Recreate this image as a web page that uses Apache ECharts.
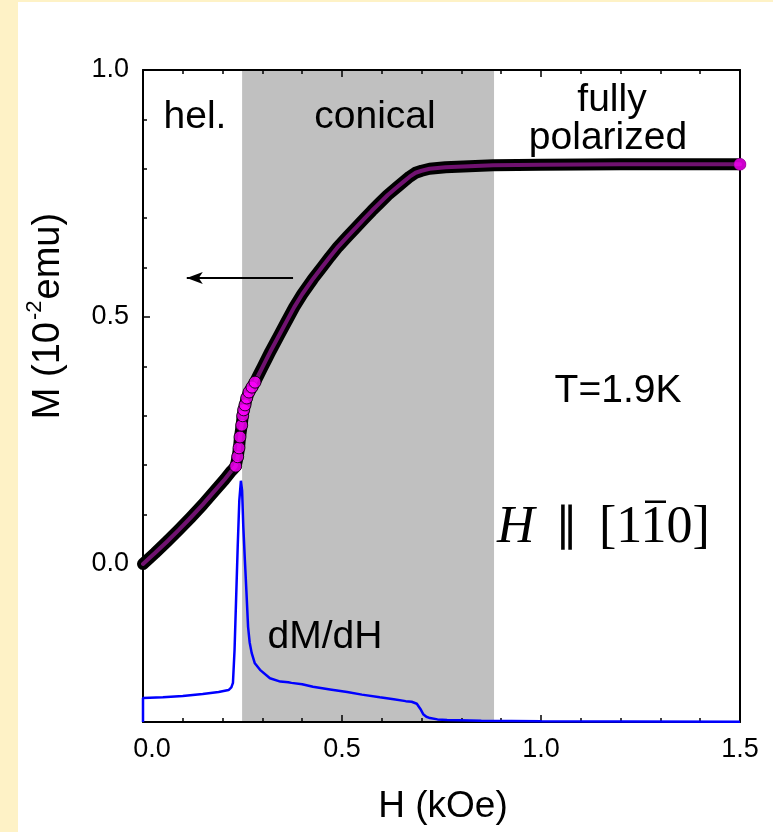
<!DOCTYPE html>
<html>
<head>
<meta charset="utf-8">
<script src="https://cdn.jsdelivr.net/npm/echarts@6/dist/echarts.min.js"></script>
<style>
  html, body { margin: 0; padding: 0; background: #fef2c6; }
  #chart { width: 773px; height: 832px; }
</style>
</head>
<body>
<div id="chart"></div>
<script>
// Magnetization M (10^-2 emu) vs field H (kOe), T = 1.9 K
// low-field helical branch
const lowH = [0, 0.03, 0.06, 0.09, 0.12, 0.15, 0.18, 0.205, 0.222, 0.228];
const lowM = [0, 0.022, 0.045, 0.069, 0.094, 0.120, 0.148, 0.171, 0.188, 0.193];
// helical -> conical transition (sparse, individually visible points)
const jumpH = [0.2329, 0.2379, 0.2412, 0.2437, 0.2480, 0.2505, 0.2530, 0.2563, 0.2606, 0.2663, 0.2739, 0.2814];
const jumpM = [0.198, 0.217, 0.235, 0.257, 0.281, 0.300, 0.312, 0.322, 0.336, 0.348, 0.358, 0.368];
// conical and fully polarized branches
const highH = [0.29, 0.30, 0.31, 0.32, 0.344, 0.36, 0.38, 0.40, 0.427, 0.45, 0.47, 0.49, 0.513, 0.535, 0.555, 0.575, 0.595, 0.615, 0.64, 0.655, 0.67, 0.685, 0.70, 0.72, 0.76, 0.82, 0.88, 1.0, 1.2, 1.5];
const highM = [0.382, 0.398, 0.414, 0.430, 0.466, 0.490, 0.520, 0.546, 0.577, 0.601, 0.622, 0.642, 0.662, 0.681, 0.698, 0.715, 0.731, 0.747, 0.764, 0.774, 0.784, 0.792, 0.796, 0.800, 0.803, 0.805, 0.807, 0.808, 0.809, 0.809];

// dM/dH (arb. units)
const dH = [0, 0, 0.05, 0.10, 0.15, 0.19, 0.215, 0.222, 0.226, 0.230, 0.234, 0.238, 0.242, 0.246, 0.249, 0.252, 0.256, 0.260, 0.264, 0.268, 0.273, 0.281, 0.294, 0.319, 0.345, 0.365, 0.369, 0.373, 0.40, 0.427, 0.47, 0.513, 0.55, 0.595, 0.63, 0.66, 0.675, 0.688, 0.697, 0.704, 0.712, 0.721, 0.74, 0.764, 0.85, 1.0, 1.2, 1.5];
const dMdH = [0, 3.7, 3.8, 4.0, 4.3, 4.6, 4.9, 5.3, 6.0, 11, 19, 27, 34, 37, 35.5, 30, 24.8, 19.8, 14.6, 12.2, 10.6, 9.0, 8.0, 6.7, 6.2, 6.1, 6.4, 6.0, 5.8, 5.4, 5.0, 4.6, 4.2, 3.8, 3.5, 3.2, 3.1, 2.8, 2.0, 1.2, 0.8, 0.6, 0.4, 0.3, 0.2, 0.12, 0.08, 0.05];

// phase boundaries (kOe)
const conicalStart = 0.249;
const conicalEnd = 0.882;

// tick values
const xTicks = [0, 0.5, 1.0, 1.5];
const yMajor = [0, 0.5, 1.0];
const yMinor = [0.1, 0.2, 0.3, 0.4, 0.6, 0.7, 0.8, 0.9];

const pairs = (xs, ys) => xs.map((x, i) => [x, ys[i]]);
const mH = lowH.concat(jumpH, highH);
const mM = lowM.concat(jumpM, highM);
const mData = pairs(mH, mM);

const SANS = '"Liberation Sans", Arial, sans-serif';
const SERIF = '"Liberation Serif", "Times New Roman", serif';
const X0 = 0, X1 = 1.5, Y0 = -0.32, Y1 = 1.0;

const chart = echarts.init(document.getElementById('chart'), null, { renderer: 'canvas' });

const baseY = {
  type: 'value', min: Y0, max: Y1, position: 'left', z: 1.5,
  splitLine: { show: false }
};

chart.setOption({
  animation: false,
  backgroundColor: '#fef2c6',
  grid: { left: 143, right: 33, top: 70, bottom: 110 },
  xAxis: [
    {
      type: 'value', min: X0, max: X1, interval: 0.5, position: 'bottom', z: 1.5,
      axisLine: { show: true, onZero: false, lineStyle: { color: '#000', width: 2 } },
      axisTick: { show: true, inside: true, length: 7, lineStyle: { color: '#000', width: 1.5 } },
      minorTick: { show: true, splitNumber: 5, length: 4, lineStyle: { color: '#000', width: 1.5 } },
      axisLabel: {
        fontFamily: SANS, fontSize: 27, color: '#000', margin: 14,
        formatter: v => (v === 0 ? '{z|' + v.toFixed(1) + '}' : v.toFixed(1)),
        rich: { z: { fontFamily: SANS, fontSize: 27, color: '#000', padding: [0, 0, 0, 18] } }
      },
      splitLine: { show: false }
    },
    {
      type: 'value', min: X0, max: X1, interval: 0.5, position: 'top', z: 1.5,
      axisLine: { show: true, onZero: false, lineStyle: { color: '#000', width: 2 } },
      axisTick: { show: true, inside: true, length: 7, lineStyle: { color: '#000', width: 1.5 } },
      minorTick: { show: true, splitNumber: 5, length: 4, lineStyle: { color: '#000', width: 1.5 } },
      axisLabel: { show: false },
      splitLine: { show: false }
    }
  ],
  yAxis: [
    Object.assign({}, baseY, {
      axisLine: { show: true, onZero: false, lineStyle: { color: '#000', width: 2 } },
      axisTick: { show: true, inside: true, length: 7, customValues: yMajor, lineStyle: { color: '#000', width: 1.5 } },
      axisLabel: { fontFamily: SANS, fontSize: 27, color: '#000', margin: 14, customValues: yMajor,
        formatter: v => v.toFixed(1) }
    }),
    // dM/dH scale (not drawn)
    { type: 'value', min: 0, max: 100, show: false, splitLine: { show: false } },
    // minor ticks on the M axis
    Object.assign({}, baseY, {
      axisLine: { show: false },
      axisTick: { show: true, inside: true, length: 4, customValues: yMinor, lineStyle: { color: '#000', width: 1.5 } },
      axisLabel: { show: false }
    }),
    // right frame
    Object.assign({}, baseY, {
      position: 'right',
      axisLine: { show: true, onZero: false, lineStyle: { color: '#000', width: 2 } },
      axisTick: { show: false },
      axisLabel: { show: false }
    })
  ],
  graphic: [
    { type: 'rect', z: -10, silent: true, shape: { x: 18, y: 2, width: 760, height: 835 }, style: { fill: '#fff' } },
    // axis titles
    { type: 'text', z: 10, x: 46, y: 316, rotation: Math.PI / 2,
      style: { text: '{a|M (10}{s|-2}{a|emu)}', align: 'center', verticalAlign: 'middle',
        rich: {
          a: { fontFamily: SANS, fontSize: 38, fill: '#000', lineHeight: 44, verticalAlign: 'bottom' },
          s: { fontFamily: SANS, fontSize: 22, fill: '#000', lineHeight: 44, verticalAlign: 'top', padding: [0, 1, 0, 2] }
        } } },
    { type: 'text', z: 10, x: 443, y: 807,
      style: { text: 'H (kOe)', font: '37px ' + SANS, fill: '#000', align: 'center', verticalAlign: 'middle' } },
    // phase labels
    { type: 'text', z: 10, x: 195, y: 117,
      style: { text: 'hel.', font: '39px ' + SANS, fill: '#000', align: 'center', verticalAlign: 'middle' } },
    { type: 'text', z: 10, x: 375, y: 117,
      style: { text: 'conical', font: '39px ' + SANS, fill: '#000', align: 'center', verticalAlign: 'middle' } },
    { type: 'text', z: 10, x: 612, y: 100,
      style: { text: 'fully', font: '39px ' + SANS, fill: '#000', align: 'center', verticalAlign: 'middle' } },
    { type: 'text', z: 10, x: 608, y: 138,
      style: { text: 'polarized', font: '39px ' + SANS, fill: '#000', align: 'center', verticalAlign: 'middle' } },
    { type: 'text', z: 10, x: 618, y: 391,
      style: { text: 'T=1.9K', font: '39px ' + SANS, fill: '#000', align: 'center', verticalAlign: 'middle' } },
    { type: 'text', z: 10, x: 325, y: 637,
      style: { text: 'dM/dH', font: '39px ' + SANS, fill: '#000', align: 'center', verticalAlign: 'middle' } },
    // field direction  H || [1 -1 0]
    { type: 'text', z: 10, x: 497, y: 528,
      style: { text: 'H', font: 'italic 52px ' + SERIF, fill: '#000', align: 'left', verticalAlign: 'middle' } },
    { type: 'text', z: 10, x: 566, y: 528,
      style: { text: '\u2225', font: '46px ' + SERIF, fill: '#000', align: 'center', verticalAlign: 'middle' } },
    { type: 'text', z: 10, x: 599, y: 528,
      style: { text: '[110]', font: '52px ' + SERIF, fill: '#000', align: 'left', verticalAlign: 'middle' } },
    { type: 'rect', z: 10, shape: { x: 645, y: 500.5, width: 21, height: 2.5 }, style: { fill: '#000' } }
  ],
  series: [
    {
      name: 'dM/dH', type: 'line', xAxisIndex: 0, yAxisIndex: 1, z: 2,
      data: pairs(dH, dMdH), showSymbol: false, symbol: 'none',
      lineStyle: { color: '#0000ff', width: 2.5 },
      markArea: {
        silent: true, z: 1,
        itemStyle: { color: '#c0c0c0', borderWidth: 0 },
        label: { show: false },
        data: [[{ coord: [conicalStart, Y1 * 100] }, { coord: [conicalEnd, -0.6] }]]
      }
    },
    {
      name: 'M outline', type: 'line', xAxisIndex: 0, yAxisIndex: 0, z: 3,
      data: mData, showSymbol: false, symbol: 'none',
      lineStyle: { color: '#000', width: 12, cap: 'round', join: 'round' },
      markLine: {
        silent: true, symbol: ['none', 'arrow'], symbolSize: [9, 16],
        label: { show: false },
        lineStyle: { color: '#000', width: 2, type: 'solid' },
        data: [[{ coord: [0.377, 0.579] }, { coord: [0.11, 0.579] }]]
      }
    },
    {
      name: 'M fill', type: 'line', xAxisIndex: 0, yAxisIndex: 0, z: 4,
      data: mData, showSymbol: false, symbol: 'none',
      lineStyle: { color: '#701270', width: 4, cap: 'round', join: 'round' }
    },
    {
      name: 'M transition', type: 'scatter', xAxisIndex: 0, yAxisIndex: 0, z: 5,
      data: pairs(jumpH, jumpM), symbol: 'circle', symbolSize: 12,
      itemStyle: { color: '#ff00ff', borderColor: '#000', borderWidth: 1 }
    },
    {
      name: 'M end', type: 'scatter', xAxisIndex: 0, yAxisIndex: 0, z: 5,
      data: [mData[mData.length - 1]], symbol: 'circle', symbolSize: 12,
      itemStyle: { color: '#ff00ff', borderColor: '#a000a0', borderWidth: 0.5 }
    }
  ]
});
</script>
</body>
</html>
